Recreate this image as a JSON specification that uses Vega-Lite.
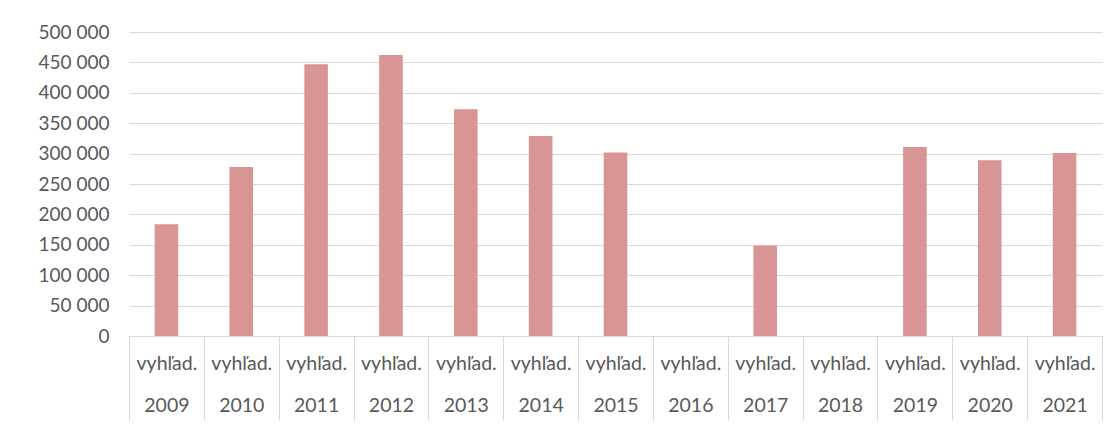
{
  "$schema": "https://vega.github.io/schema/vega-lite/v6.json",
  "width": 973,
  "height": 304,
  "autosize": {"type": "none"},
  "padding": {"left": 129, "top": 32, "right": 5, "bottom": 92},
  "background": "white",
  "config": {"view": {"stroke": null}, "font": "Lato"},
  "data": {
    "values": [
      {"rok": "2009", "hodnota": 184000},
      {"rok": "2010", "hodnota": 278000},
      {"rok": "2011", "hodnota": 447000},
      {"rok": "2012", "hodnota": 462000},
      {"rok": "2013", "hodnota": 373000},
      {"rok": "2014", "hodnota": 329000},
      {"rok": "2015", "hodnota": 302000},
      {"rok": "2016", "hodnota": 0},
      {"rok": "2017", "hodnota": 149000},
      {"rok": "2018", "hodnota": 0},
      {"rok": "2019", "hodnota": 311000},
      {"rok": "2020", "hodnota": 289000},
      {"rok": "2021", "hodnota": 301000}
    ]
  },
  "mark": {"type": "bar", "width": {"band": 0.315}, "color": "#d99594"},
  "encoding": {
    "x": {
      "field": "rok",
      "type": "nominal",
      "sort": null,
      "scale": {"paddingInner": 0, "paddingOuter": 0},
      "axis": {
        "title": null,
        "labelAngle": 0,
        "labelExpr": "datum.label ? ['vyhľad.', datum.label] : ''",
        "labelLineHeight": 42,
        "labelFont": "Lato",
        "labelFontSize": 19.5,
        "labelColor": "#595959",
        "labelBaseline": "alphabetic",
        "labelAlign": "center",
        "labelFlush": false,
        "labelOverlap": false,
        "labelBound": false,
        "labelPadding": -50.5,
        "tickBand": "extent",
        "tickSize": 84,
        "tickColor": "#d9d9d9",
        "tickWidth": 1,
        "domainColor": "#d9d9d9",
        "domainWidth": 1,
        "grid": false
      }
    },
    "y": {
      "field": "hodnota",
      "type": "quantitative",
      "scale": {"domain": [0, 500000], "nice": false},
      "axis": {
        "title": null,
        "values": [0, 50000, 100000, 150000, 200000, 250000, 300000, 350000, 400000, 450000, 500000],
        "labelExpr": "replace(format(datum.value, ','), ',', ' ')",
        "ticks": false,
        "domain": false,
        "grid": true,
        "gridColor": "#d9d9d9",
        "gridWidth": 1,
        "labelPadding": 20,
        "labelFont": "Lato",
        "labelFontSize": 19,
        "labelColor": "#595959"
      }
    }
  }
}
